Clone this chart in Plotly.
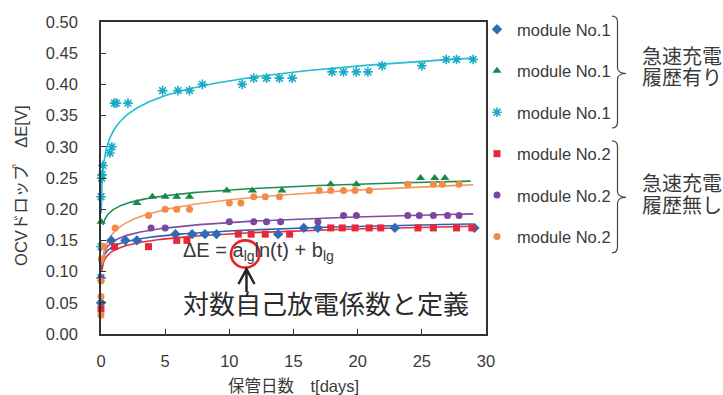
import numpy as np
import plotly.graph_objects as go

# ---------------- data ----------------
series_names = ["module No.1", "module No.1", "module No.1",
                "module No.2", "module No.2", "module No.2"]

t_blue = [0.0, 0.8, 1.9, 2.8, 5.8, 7.1, 8.1, 9.0, 13.8, 15.8, 16.9, 22.9, 29.1]
v_blue = [0.05, 0.15, 0.15, 0.15, 0.16, 0.16, 0.16, 0.16, 0.16, 0.17, 0.17, 0.17, 0.17]

t_green = [0.0, 2.8, 4.0, 5.0, 5.9, 6.9, 9.8, 11.8, 14.1, 17.9, 19.9, 24.9, 26.0, 26.8]
v_green = [0.18, 0.21, 0.22, 0.22, 0.22, 0.22, 0.23, 0.23, 0.23, 0.24, 0.24, 0.25, 0.25, 0.25]

t_cyan = [0.0, 0.0, 0.0, 0.05, 0.08, 0.15, 0.7, 0.85, 1.05, 1.2, 2.1, 4.8, 6.0, 6.9, 7.9,
          11.0, 11.9, 12.9, 13.9, 14.9, 18.0, 18.9, 19.9, 20.8, 21.9, 25.0, 26.9, 27.7, 29.0]
v_cyan = [0.09, 0.14, 0.22, 0.25, 0.255, 0.27, 0.29, 0.30, 0.37, 0.37, 0.37, 0.39, 0.39, 0.39, 0.40,
          0.40, 0.41, 0.41, 0.41, 0.41, 0.42, 0.42, 0.42, 0.42, 0.43, 0.43, 0.44, 0.44, 0.44]

t_red = [0.0, 1.05, 3.7, 5.9, 6.7, 10.7, 11.7, 12.8, 14.7, 17.9, 18.8, 19.8, 20.9, 21.8,
         24.7, 25.9, 27.7, 28.9]
v_red = [0.04, 0.14, 0.14, 0.15, 0.15, 0.16, 0.16, 0.16, 0.16, 0.17, 0.17, 0.17, 0.17, 0.17,
         0.17, 0.17, 0.17, 0.17]

t_purple = [0.0, 3.9, 5.0, 10.0, 11.9, 12.9, 14.0, 16.9, 18.9, 19.9, 23.9, 24.8, 25.9, 27.0, 27.9]
v_purple = [0.09, 0.17, 0.17, 0.18, 0.18, 0.18, 0.18, 0.18, 0.19, 0.19, 0.19, 0.19, 0.19, 0.19, 0.19]

t_orange = [0.0, 0.0, 0.0, 0.02, 0.2, 1.1, 3.7, 5.0, 5.9, 6.9, 10.0, 10.9, 11.9, 12.8, 13.9,
            17.0, 17.9, 18.9, 19.8, 20.9, 23.9, 25.9, 26.6, 27.9]
v_orange = [0.03, 0.06, 0.085, 0.12, 0.14, 0.17, 0.19, 0.20, 0.20, 0.20, 0.21, 0.21, 0.22, 0.22, 0.22,
            0.23, 0.23, 0.23, 0.23, 0.23, 0.24, 0.24, 0.24, 0.24]

# logarithmic trend-line coefficients  dE = a*ln(t) + b
fit_a = [0.0105, 0.0134, 0.0342, 0.0115, 0.0129, 0.0226]
fit_b = [0.141, 0.200, 0.327, 0.134, 0.149, 0.163]
fit_t_start = [0.03, 0.15, 0.02, 0.05, 0.03, 0.10]
fit_t_end = [29.0, 28.8, 29.0, 29.0, 29.0, 29.0]

x_ticks = [0, 5, 10, 15, 20, 25, 30]
y_ticks = [0.00, 0.05, 0.10, 0.15, 0.20, 0.25, 0.30, 0.35, 0.40, 0.45, 0.50]

x_title = "保管日数　t[days]"
y_title = "OCVドロップ　ΔE[V]"
group_labels = [("急速充電", "履歴有り"), ("急速充電", "履歴無し")]
eq_text = "ΔE = a<sub>lg</sub>ln(t) + b<sub>lg</sub>"
note_text = "対数自己放電係数と定義"

# ---------------- styling ----------------
FONT = "Liberation Sans, Arial, Noto Sans CJK JP, sans-serif"
TXT = "#3a3a3a"
W_FIG, H_FIG = 723, 395
L, R, T, B = 101, 486, 19, 334  # plot area in pixels
PW, PH = R - L, B - T

marker_colors = ["#2f6cb8", "#178a4a", "#1aaac6", "#e8283a", "#7b45a0", "#f28b48"]
line_colors = ["#2a63b8", "#1b8e4e", "#22bcd5", "#ea2b3c", "#7d4ea3", "#f6995a"]
symbols = ["diamond", "triangle-up", "asterisk-open", "square", "circle", "circle"]
sizes = [8, 8, 8, 7, 7, 7]

all_t = [t_blue, t_green, t_cyan, t_red, t_purple, t_orange]
all_v = [v_blue, v_green, v_cyan, v_red, v_purple, v_orange]


def pp(x, y):
    """pixel -> paper coordinates"""
    return (x - L) / PW, (B - y) / PH


fig = go.Figure()

# trend lines
for i in range(6):
    tt = np.geomspace(fit_t_start[i], fit_t_end[i], 300)
    fig.add_trace(go.Scatter(
        x=tt, y=fit_a[i] * np.log(tt) + fit_b[i], mode="lines",
        line=dict(color=line_colors[i], width=1.6), showlegend=False,
        legendgroup=f"g{i}", hoverinfo="skip"))

# measured points
for i in range(6):
    mk = dict(color=marker_colors[i], size=sizes[i], symbol=symbols[i])
    if symbols[i] == "asterisk-open":
        mk["line"] = dict(color=marker_colors[i], width=1.6)
    else:
        mk["line"] = dict(width=0)
    fig.add_trace(go.Scatter(
        x=all_t[i], y=all_v[i], mode="markers", marker=mk,
        name=series_names[i], legendgroup=f"g{i}", cliponaxis=False))

shapes = []
# curly braces
def brace(ytop, ymid, ybot):
    xl, xv, xt = 612, 617.5, 626
    pts = [("M", xl, ytop), ("Q", xv, ytop), ("", xv, ytop + 6), ("L", xv, ymid - 6),
           ("Q", xv, ymid), ("", xt, ymid), ("Q", xv, ymid), ("", xv, ymid + 6),
           ("L", xv, ybot - 6), ("Q", xv, ybot), ("", xl, ybot)]
    s = ""
    for cmd, x, y in pts:
        a, b = pp(x, y)
        s += f"{cmd}{a:.5f},{b:.5f} "
    return dict(type="path", path=s.strip(), xref="paper", yref="paper",
                line=dict(color="#444444", width=1.2))

shapes.append(brace(13, 71, 126))
shapes.append(brace(139, 196, 252))

# red circle
cx0, cy0 = pp(231, 267)
cx1, cy1 = pp(259.5, 239.5)
shapes.append(dict(type="circle", xref="paper", yref="paper", x0=cx0, y0=cy0, x1=cx1, y1=cy1,
                   line=dict(color="#e8202a", width=2.6)))
# arrow
a0 = pp(246.5, 291.5); a1 = pp(246.5, 268.5)
h0 = pp(238.5, 283.5); h1 = pp(254.5, 283.5)
shapes.append(dict(type="path", xref="paper", yref="paper",
                   path=f"M{a0[0]:.5f},{a0[1]:.5f} L{a1[0]:.5f},{a1[1]:.5f} M{h0[0]:.5f},{h0[1]:.5f} "
                        f"L{a1[0]:.5f},{a1[1]:.5f} L{h1[0]:.5f},{h1[1]:.5f}",
                   line=dict(color="#222222", width=2.4)))

annotations = []
def ann(text, x, y, size, xanchor="left", angle=0, color=TXT):
    ax, ay = pp(x, y)
    annotations.append(dict(text=text, x=ax, y=ay, xref="paper", yref="paper",
                            xanchor=xanchor, yanchor="middle", showarrow=False,
                            textangle=angle, font=dict(family=FONT, size=size, color=color)))

ann(group_labels[0][0], 640, 54.5, 20)
ann(group_labels[0][1], 640, 76, 20)
ann(group_labels[1][0], 640, 183, 20)
ann(group_labels[1][1], 640, 204.5, 20)
ann(eq_text, 181, 251, 20)
ann(note_text, 326, 305, 26, xanchor="center", color="#2a2a2a")
ann(x_title, 293.5, 387, 16.5, xanchor="center")
ann(y_title, 21, 184.5, 16.5, xanchor="center", angle=-90)

fig.update_layout(
    width=W_FIG, height=H_FIG,
    margin=dict(l=L, r=W_FIG - R, t=T, b=H_FIG - B, pad=0),
    paper_bgcolor="white", plot_bgcolor="white",
    font=dict(family=FONT, size=16.5, color=TXT),
    shapes=shapes, annotations=annotations,
    legend=dict(x=pp(477, 0)[0], y=pp(0, 9)[1], xanchor="left", yanchor="top",
                bgcolor="rgba(0,0,0,0)", borderwidth=0, tracegroupgap=17.0,
                maxheight=390,
                font=dict(family=FONT, size=16.5, color=TXT), itemsizing="trace"),
    showlegend=True,
)
fig.update_xaxes(range=[0, 30], tickvals=x_ticks, ticktext=[str(v) for v in x_ticks],
                 ticks="inside", ticklen=5, tickwidth=1, tickcolor="#333",
                 showline=True, linecolor="#333", linewidth=1.6, mirror=True,
                 showgrid=False, zeroline=False, ticklabelstandoff=11,
                 tickfont=dict(family=FONT, size=16.5, color=TXT))
fig.update_yaxes(range=[0, 0.5], tickvals=y_ticks, ticktext=[f"{v:.2f}" for v in y_ticks],
                 ticks="inside", ticklen=5, tickwidth=1, tickcolor="#333",
                 showline=True, linecolor="#333", linewidth=1.6, mirror=True,
                 showgrid=False, zeroline=False, ticklabelstandoff=18,
                 tickfont=dict(family=FONT, size=16.5, color=TXT))

fig.write_html("out.html")
